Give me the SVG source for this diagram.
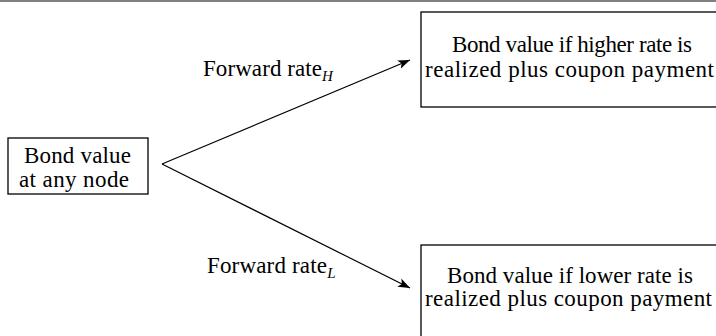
<svg xmlns="http://www.w3.org/2000/svg" width="716" height="336" viewBox="0 0 716 336">
<style>
text{font-family:"Liberation Serif","Times New Roman",serif;font-size:23px;fill:#000}
.box{fill:#fff;stroke:#000;stroke-width:1.3}
.edge{stroke:#000;stroke-width:1.2;fill:none;marker-end:url(#ah)}
.sub{font-size:15px;font-style:italic}
</style>
<defs>
<marker id="ah" viewBox="0 0 12 10" refX="12" refY="5" markerWidth="12" markerHeight="10" markerUnits="userSpaceOnUse" orient="auto">
<path d="M0,0.5 L12,5 L0,9.5 L3,5 Z" fill="#000"/>
</marker>
</defs>
<rect width="716" height="336" fill="#fff"/>
<line x1="0" y1="1" x2="716" y2="1" stroke="#808080" stroke-width="2"/>
<g id="connectors">
<line class="edge" x1="162" y1="164" x2="410" y2="60"/>
<line class="edge" x1="162" y1="164" x2="410" y2="288"/>
<text x="203" y="76"><tspan textLength="119">Forward rate</tspan><tspan class="sub" dy="5">H</tspan></text>
<text x="207" y="273"><tspan textLength="120">Forward rate</tspan><tspan class="sub" dy="5">L</tspan></text>
</g>
<g id="root">
<rect class="box" x="8" y="138" width="140" height="56"/>
<text x="24" y="163" textLength="107">Bond value</text>
<text x="19" y="187" textLength="110">at any node</text>
</g>
<g id="high">
<rect class="box" x="421" y="12" width="310" height="95"/>
<text x="452" y="52" textLength="240">Bond value if higher rate is</text>
<text x="425" y="77" textLength="289">realized plus coupon payment</text>
</g>
<g id="low">
<rect class="box" x="421" y="245" width="310" height="110"/>
<text x="447" y="283" textLength="246">Bond value if lower rate is</text>
<text x="425" y="306" textLength="287">realized plus coupon payment</text>
</g>
</svg>
